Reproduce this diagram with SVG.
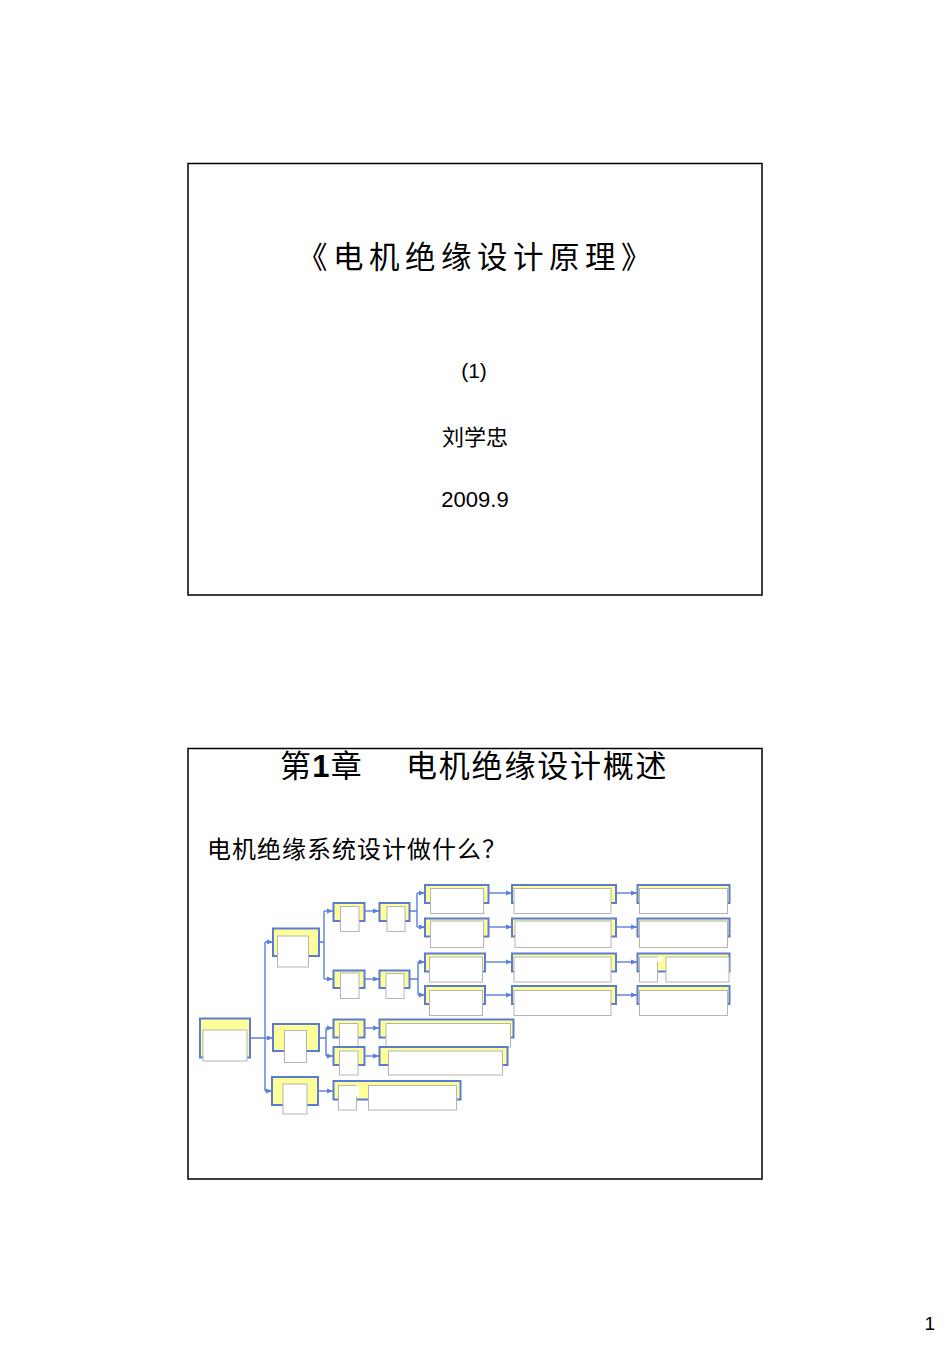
<svg xmlns="http://www.w3.org/2000/svg" width="950" height="1345" viewBox="0 0 950 1345">
<style>
.frame{fill:#fff;stroke:#000;stroke-width:1.5}
.y{fill:#ffff99;stroke:#5b7bd5;stroke-width:2}
.w{fill:#fff;stroke:#b4b4b4;stroke-width:1}
.wn{fill:#fff;stroke:none}
.c{fill:none;stroke:#5b7fdc;stroke-width:1.4}
.cjk{font-family:"Noto Sans CJK SC","Noto Sans",sans-serif;fill:#000}
.lat{font-family:"Liberation Sans",Arial,sans-serif;fill:#000}
</style>
<defs>
<marker id="ar" markerWidth="6" markerHeight="6" refX="6" refY="3" orient="auto" markerUnits="userSpaceOnUse">
<path d="M0,0.5 L6,3 L0,5.5 Z" fill="#5b7fdc"/>
</marker>
</defs>
<rect width="950" height="1345" fill="#fff"/>

<g id="slide1">
<rect class="frame" x="188" y="163.5" width="574" height="431.5"/>
<text class="cjk" x="297" y="268" font-size="30.5" letter-spacing="5.5">《电机绝缘设计原理》</text>
<text class="lat" x="474" y="378" font-size="21" text-anchor="middle">(1)</text>
<text class="cjk" x="475" y="445" font-size="22" text-anchor="middle">刘学忠</text>
<text class="lat" x="475" y="506.5" font-size="22" text-anchor="middle">2009.9</text>
</g>

<g id="slide2">
<rect class="frame" x="188" y="748.5" width="574" height="430.5"/>
<text class="cjk" x="280" y="777" font-size="31" letter-spacing="1.3">第<tspan font-family="Liberation Sans,Arial,sans-serif" font-weight="bold">1</tspan>章</text>
<text class="cjk" x="406" y="777" font-size="31" letter-spacing="1.8">电机绝缘设计概述</text>
<text class="cjk" x="207" y="858" font-size="24" letter-spacing="1">电机绝缘系统设计做什么？</text>
</g>

<g id="connectors">
<path class="c" d="M250,1038 H265 M265,942 V1091"/>
<path class="c" marker-end="url(#ar)" d="M265,942 H273"/>
<path class="c" marker-end="url(#ar)" d="M265,1038 H273"/>
<path class="c" marker-end="url(#ar)" d="M265,1091 H272"/>
<path class="c" d="M319,942 H324 M324,911 V979"/>
<path class="c" marker-end="url(#ar)" d="M324,911 H333"/>
<path class="c" marker-end="url(#ar)" d="M324,979 H333"/>
<path class="c" marker-end="url(#ar)" d="M365,911 H379"/>
<path class="c" marker-end="url(#ar)" d="M365,979 H379"/>
<path class="c" d="M409,911 H417 M417,893 V927"/>
<path class="c" marker-end="url(#ar)" d="M417,893 H425"/>
<path class="c" marker-end="url(#ar)" d="M417,927 H425"/>
<path class="c" d="M409,979 H418 M418,962 V995"/>
<path class="c" marker-end="url(#ar)" d="M418,962 H425"/>
<path class="c" marker-end="url(#ar)" d="M418,995 H425"/>
<path class="c" marker-end="url(#ar)" d="M488,893 H512"/>
<path class="c" marker-end="url(#ar)" d="M488,927 H512"/>
<path class="c" marker-end="url(#ar)" d="M485,962 H512"/>
<path class="c" marker-end="url(#ar)" d="M485,995 H512"/>
<path class="c" marker-end="url(#ar)" d="M616,893 H637"/>
<path class="c" marker-end="url(#ar)" d="M616,927 H637"/>
<path class="c" marker-end="url(#ar)" d="M616,962 H637"/>
<path class="c" marker-end="url(#ar)" d="M616,995 H637"/>
<path class="c" d="M319,1038 H326 M326,1028 V1056"/>
<path class="c" marker-end="url(#ar)" d="M326,1028 H333"/>
<path class="c" marker-end="url(#ar)" d="M326,1056 H333"/>
<path class="c" marker-end="url(#ar)" d="M365,1028 H379"/>
<path class="c" marker-end="url(#ar)" d="M365,1056 H379"/>
<path class="c" marker-end="url(#ar)" d="M318,1091 H333"/>
</g>

<g id="root"><rect class="y" x="200" y="1018.5" width="50" height="39"/><rect class="w" x="203" y="1030" width="44" height="31"/></g>
<g id="nA"><rect class="y" x="273" y="928.5" width="46" height="27.5"/><rect class="w" x="277.5" y="936" width="31" height="31"/></g>
<g id="nB"><rect class="y" x="273" y="1024" width="46" height="27"/><rect class="w" x="284.5" y="1030.5" width="22" height="32"/></g>
<g id="nC"><rect class="y" x="272" y="1077" width="46" height="28"/><rect class="w" x="283" y="1084" width="24" height="30"/></g>

<g id="nA1"><rect class="y" x="333.5" y="903" width="31" height="18"/><rect class="w" x="340.5" y="906.5" width="18.5" height="25"/></g>
<g id="nA2"><rect class="y" x="379.5" y="903" width="30" height="18"/><rect class="w" x="387" y="906.5" width="18" height="25"/></g>
<g id="nA3"><rect class="y" x="333.5" y="970.5" width="31" height="17.5"/><rect class="w" x="340.5" y="973" width="18.5" height="25.5"/></g>
<g id="nA4"><rect class="y" x="379.5" y="970.5" width="30" height="17.5"/><rect class="w" x="386" y="973.5" width="18" height="25"/></g>

<g id="nR1"><rect class="y" x="425" y="885" width="63.5" height="18"/><rect class="w" x="430.5" y="888.5" width="53" height="25"/></g>
<g id="nR2"><rect class="y" x="425" y="918.5" width="63.5" height="18"/><rect class="w" x="430.5" y="921" width="53" height="26.5"/></g>
<g id="nR3"><rect class="y" x="425" y="953.5" width="60" height="18"/><rect class="w" x="429.5" y="957" width="53" height="25"/></g>
<g id="nR4"><rect class="y" x="425" y="986" width="60" height="18"/><rect class="w" x="429.5" y="990.5" width="53" height="25"/></g>

<g id="nS1"><rect class="y" x="512" y="885" width="104" height="18"/><rect class="w" x="514" y="888.5" width="97" height="25"/></g>
<g id="nS2"><rect class="y" x="512" y="918.5" width="104" height="18"/><rect class="w" x="515" y="921" width="96" height="26.5"/></g>
<g id="nS3"><rect class="y" x="512" y="953.5" width="104" height="18"/><rect class="w" x="514" y="957" width="97" height="25"/></g>
<g id="nS4"><rect class="y" x="512" y="986" width="104" height="18"/><rect class="w" x="514" y="990.5" width="97" height="25"/></g>

<g id="nT1"><rect class="y" x="637.5" y="885" width="92" height="18"/><rect class="w" x="639.5" y="888.5" width="88" height="25"/></g>
<g id="nT2"><rect class="y" x="637.5" y="918.5" width="92" height="18"/><rect class="w" x="639.5" y="921" width="88" height="26.5"/></g>
<g id="nT3"><rect class="y" x="637.5" y="953.5" width="92" height="18"/><rect class="w" x="639.5" y="957" width="18" height="25"/><rect class="wn" x="657" y="957" width="4.5" height="5"/><rect class="w" x="666" y="957" width="63" height="25"/></g>
<g id="nT4"><rect class="y" x="637.5" y="986" width="92" height="18"/><rect class="w" x="639.5" y="990.5" width="88" height="25"/></g>

<g id="nB1"><rect class="y" x="333.5" y="1019.5" width="31" height="18"/><rect class="w" x="339.5" y="1023.5" width="18.5" height="23.5"/></g>
<g id="nB2"><rect class="y" x="333.5" y="1047" width="31" height="18"/><rect class="w" x="339.5" y="1051" width="18.5" height="24"/></g>
<g id="nB1r"><rect class="y" x="379.5" y="1019.5" width="134" height="18"/><rect class="w" x="386" y="1023.5" width="124.5" height="23.5"/></g>
<g id="nB2r"><rect class="y" x="379.5" y="1047" width="128" height="18"/><rect class="w" x="388.5" y="1051" width="114" height="24"/></g>

<g id="nC1"><rect class="y" x="333.5" y="1081" width="127" height="18.5"/><rect class="w" x="338.5" y="1085.5" width="18" height="24.5"/><rect class="wn" x="356" y="1085.5" width="3" height="11"/><rect class="w" x="368.5" y="1085.5" width="88" height="24.5"/></g>

<text class="lat" x="935" y="1330" font-size="19" text-anchor="end">1</text>
</svg>
